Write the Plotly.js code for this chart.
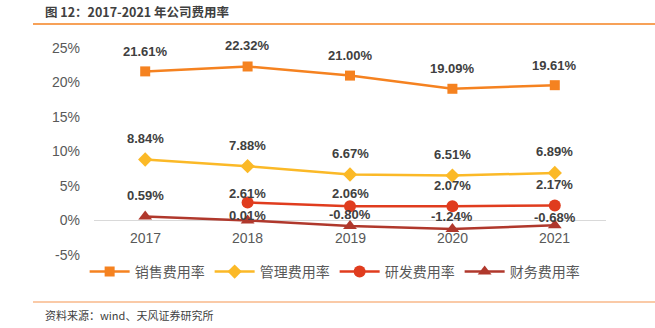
<!DOCTYPE html>
<html><head><meta charset="utf-8">
<script src="https://cdn.plot.ly/plotly-3.0.1.min.js"></script>
<style>html,body{margin:0;padding:0;background:#fff;}#chart{width:655px;height:328px;}</style>
</head><body><div id="chart"></div>
<script>
const years = ['2017','2018','2019','2020','2021'];
const salesRate = [21.61, 22.32, 21.00, 19.09, 19.61];
const adminRate = [8.84, 7.88, 6.67, 6.51, 6.89];
const rdYears = ['2018','2019','2020','2021'];
const rdRate = [2.61, 2.06, 2.07, 2.17];
const finRate = [0.59, 0.01, -0.80, -1.24, -0.68];
const seriesNames = ['销售费用率','管理费用率','研发费用率','财务费用率'];
const yTicks = [-5, 0, 5, 10, 15, 20, 25];

// label offsets (pixels above the point), layout only
const salesShift = [20, 21, 20, 20, 20];
const adminShift = [21, 21, 21, 21, 21];
const rdShift = [9, 13, 21, 21];
const finShift = [21, 5, 12, 13, 8];

const FONT = 'Liberation Sans, Arial, Noto Sans CJK SC, sans-serif';
const lbl = v => v.toFixed(2) + '%';
function tr(x, y, name, color, symbol, size){
  return {x:x, y:y, name:name, type:'scatter', mode:'lines+markers',
    line:{color:color, width:2.5},
    marker:{color:color, symbol:symbol, size:size},
    cliponaxis:false};
}
const data = [
  tr(years, salesRate, seriesNames[0], '#F58220', 'square', 10),
  tr(years, adminRate, seriesNames[1], '#FBB927', 'diamond', 11),
  tr(rdYears, rdRate, seriesNames[2], '#E03C1E', 'circle', 12),
  tr(years, finRate, seriesNames[3], '#B0382C', 'triangle-up', 12)
];
const idx = x => years.indexOf(x);
const labelAnns = [];
[[years, salesRate, salesShift],[years, adminRate, adminShift],[rdYears, rdRate, rdShift],[years, finRate, finShift]].forEach(([xs, ys, sh]) => {
  xs.forEach((x, i) => labelAnns.push({xref:'x', yref:'y', x:idx(x), y:ys[i], yshift:sh[i], showarrow:false,
    xanchor:'center', yanchor:'middle', text:lbl(ys[i]),
    font:{family:FONT, size:13, color:'#404040', weight:'bold'}}));
});
const tickAnns = years.map(x => ({xref:'x', yref:'y', x:idx(x), y:0, yshift:-17, showarrow:false,
  xanchor:'center', yanchor:'middle', text:x, font:{family:FONT, size:14, color:'#595959'}}));
const px = x => (x-94)/512, py = y => (255-y)/207;
const layout = {
  width:655, height:328,
  margin:{l:94, r:49, t:48, b:73},
  paper_bgcolor:'#fff', plot_bgcolor:'#fff',
  showlegend:true,
  legend:{orientation:'h', x:0.47, xanchor:'center', y:py(272), yanchor:'middle',
    font:{family:'Noto Sans CJK SC, sans-serif', size:14, color:'#595959'},
    itemwidth:40, tracegroupgap:0},
  xaxis:{type:'category', categoryorder:'array', categoryarray:years, range:[-0.5, 4.5],
    showgrid:false, showline:false, zeroline:false, ticks:'', showticklabels:false},
  yaxis:{range:[-5,25], tickvals:yTicks, ticktext:yTicks.map(v=>v+'%'),
    showgrid:false, showline:false, zeroline:true, zerolinecolor:'#d9d9d9', zerolinewidth:1,
    ticks:'', tickfont:{family:FONT, size:14, color:'#595959'}, ticklabelstandoff:13},
  shapes:[
    {type:'line', xref:'paper', yref:'paper', x0:px(33), x1:px(655), y0:py(24), y1:py(24), line:{color:'#F58220', width:1.5}},
    {type:'line', xref:'paper', yref:'paper', x0:px(33), x1:px(655), y0:py(302), y1:py(302), line:{color:'#F9B98A', width:1.5}}
  ],
  annotations:[
    {xref:'paper', yref:'paper', x:px(43), y:py(12), xanchor:'left', yanchor:'middle', showarrow:false,
      text:'<b>图 12：2017-2021 年公司费用率</b>', font:{family:'Noto Sans CJK SC, sans-serif', size:12.5, color:'#404040'}},
    {xref:'paper', yref:'paper', x:px(43), y:py(315), xanchor:'left', yanchor:'middle', showarrow:false,
      text:'资料来源：wind、天风证券研究所', font:{family:'Noto Sans CJK SC, sans-serif', size:11, color:'#404040'}}
  ].concat(tickAnns, labelAnns)
};
Plotly.newPlot('chart', data, layout, {staticPlot:true});
</script></body></html>
